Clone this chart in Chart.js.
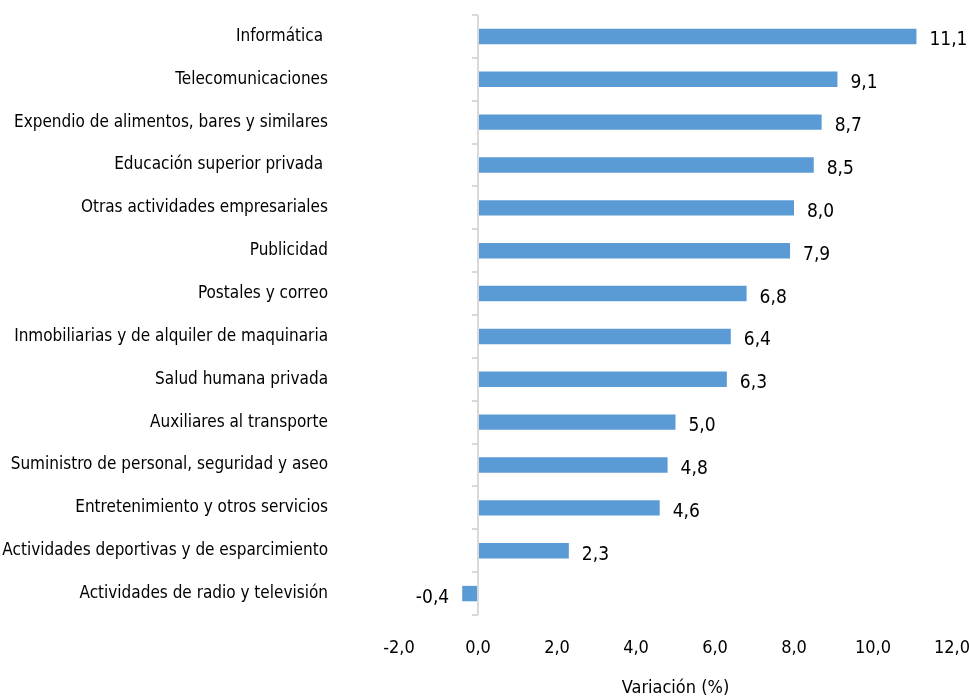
<!DOCTYPE html>
<html>
<head>
<meta charset="utf-8">
<script src="https://cdn.jsdelivr.net/npm/chart.js@4/dist/chart.umd.min.js"></script>
<style>
    html, body { margin: 0; padding: 0; background: #fff; }
    #wrap { width: 969px; height: 700px; position: relative; }
</style>
</head>
<body>
<div id="wrap"><canvas id="chart"></canvas></div>
<script>
var categories = [
    'Informática ',
    'Telecomunicaciones',
    'Expendio de alimentos, bares y similares',
    'Educación superior privada ',
    'Otras actividades empresariales',
    'Publicidad',
    'Postales y correo',
    'Inmobiliarias y de alquiler de maquinaria',
    'Salud humana privada',
    'Auxiliares al transporte',
    'Suministro de personal, seguridad y aseo',
    'Entretenimiento y otros servicios',
    'Actividades deportivas y de esparcimiento',
    'Actividades de radio y televisión'
];
var variacion = [11.1, 9.1, 8.7, 8.5, 8.0, 7.9, 6.8, 6.4, 6.3, 5.0, 4.8, 4.6, 2.3, -0.4];
var xTicks = [-2, 0, 2, 4, 6, 8, 10, 12];

var FONT = '"DejaVu Sans Condensed", "Liberation Sans", sans-serif';

function fmt(v) {
    return v.toFixed(1).replace('.', ',');
}

// eje vertical en x = 0 con marcas entre categorias
var zeroAxis = {
    id: 'zeroAxis',
    afterDatasetsDraw: function (chart) {
        var ctx = chart.ctx;
        var x0 = chart.scales.x.getPixelForValue(0);
        var area = chart.chartArea;
        var n = categories.length;
        var step = (area.bottom - area.top) / n;
        ctx.save();
        ctx.strokeStyle = '#d9d9d9';
        ctx.lineWidth = 2;
        ctx.beginPath();
        ctx.moveTo(x0, area.top);
        ctx.lineTo(x0, area.bottom);
        for (var i = 0; i <= n; i++) {
            var y = Math.round(area.top + i * step);
            ctx.moveTo(x0 - 6, y);
            ctx.lineTo(x0, y);
        }
        ctx.stroke();
        ctx.restore();
    }
};

var valueLabels = {
    id: 'valueLabels',
    afterDatasetsDraw: function (chart) {
        var ctx = chart.ctx;
        var meta = chart.getDatasetMeta(0);
        ctx.save();
        ctx.font = '19px ' + FONT;
        ctx.fillStyle = '#000';
        ctx.textBaseline = 'middle';
        meta.data.forEach(function (bar, i) {
            var v = variacion[i];
            if (v >= 0) {
                ctx.textAlign = 'left';
                ctx.fillText(fmt(v), bar.x + 13, bar.y + 4);
            } else {
                ctx.textAlign = 'right';
                ctx.fillText(fmt(v), bar.x - 13, bar.y + 4);
            }
        });
        ctx.restore();
    }
};

new Chart(document.getElementById('chart'), {
    type: 'bar',
    data: {
        labels: categories,
        datasets: [{
            data: variacion,
            backgroundColor: '#5b9bd5',
            borderWidth: 0,
            categoryPercentage: 1,
            barPercentage: 0.36
        }]
    },
    options: {
        indexAxis: 'y',
        responsive: true,
        maintainAspectRatio: false,
        animation: false,
        layout: { padding: { top: 15, right: 17, bottom: 0, left: 0 } },
        plugins: {
            legend: { display: false },
            tooltip: { enabled: false }
        },
        scales: {
            x: {
                min: -2,
                max: 12,
                afterBuildTicks: function (scale) {
                    scale.ticks = xTicks.map(function (v) { return { value: v }; });
                },
                afterFit: function (scale) {
                    scale.height = 85;
                    scale.paddingLeft = 0;
                    scale.paddingRight = 0;
                },
                grid: { display: false, drawTicks: false },
                border: { display: false },
                ticks: {
                    padding: 23,
                    maxRotation: 0,
                    color: '#000',
                    font: { family: FONT, size: 18 },
                    callback: function (v) { return fmt(v); }
                },
                title: {
                    display: true,
                    text: 'Variación (%)',
                    color: '#000',
                    font: { family: FONT, size: 18 },
                    padding: { top: 4, bottom: 1 }
                }
            },
            y: {
                afterFit: function (scale) {
                    scale.width = 399;
                    scale.paddingTop = 0;
                    scale.paddingBottom = 0;
                },
                grid: { display: false, drawTicks: false },
                border: { display: false },
                ticks: {
                    padding: 71,
                    color: '#000',
                    font: { family: FONT, size: 17 },
                    autoSkip: false
                }
            }
        }
    },
    plugins: [zeroAxis, valueLabels]
});
</script>
</body>
</html>
